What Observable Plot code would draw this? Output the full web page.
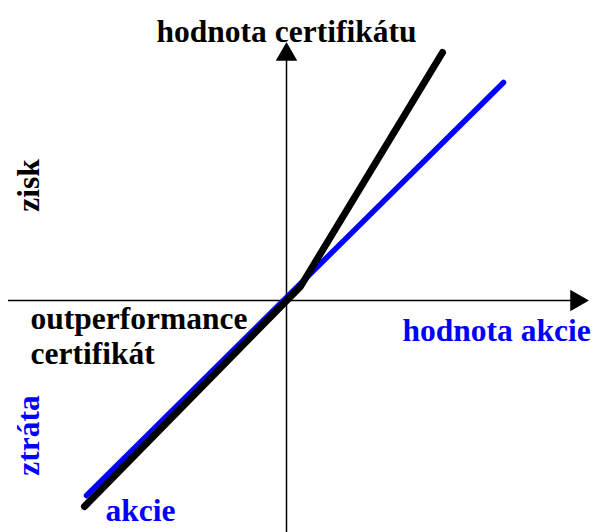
<!DOCTYPE html>
<html><head><meta charset="utf-8">
<script src="https://cdn.jsdelivr.net/npm/d3@7"></script>
<script src="https://cdn.jsdelivr.net/npm/@observablehq/plot@0.6"></script>
<style>body{margin:0;background:#fff}</style>
</head><body><div id="chart"></div>
<script>
// stock value line (akcie) and certificate value line (outperformance certifikát)
const akcieX = [-10, 10.85];
const akcieY = [-9.75, 10.9];
const certX = [-10.1, 0.7, 7.8];
const certY = [-10.3, 0.7, 12.4];
// axis extents
const axisXRange = [-13.9, 14.6];
const axisYRange = [-11.6, 12.4];
// labels
const labelTexts = ["hodnota certifikátu", "hodnota akcie", "outperformance\ncertifikát", "zisk", "ztráta", "akcie"];
const labelX = [0, 5.8, -12.8, -12.9, -12.9, -9.05];
const labelY = [12.95, -1.5, -0.2, 5.75, -6.75, -10.5];
const labelColor = ["black", "#0000ff", "black", "black", "#0000ff", "#0000ff"];

const akcie = akcieX.map((x, i) => ({x, y: akcieY[i]}));
const cert = certX.map((x, i) => ({x, y: certY[i]}));
const labels = labelTexts.map((t, i) => ({t, x: labelX[i], y: labelY[i], c: labelColor[i]}));

const font = "Liberation Serif, Times New Roman, serif";
const fs = 31.5;
const chart = Plot.plot({
  width: 595, height: 532,
  margin: 0,
  x: {domain: [-14.3, 15.45], axis: null},
  y: {domain: [-11.6, 15], axis: null},
  style: {fontFamily: font},
  marks: [
    Plot.ruleY([0], {x1: axisXRange[0], x2: axisXRange[1], stroke: "black", strokeWidth: 1.5}),
    Plot.ruleX([0], {y1: axisYRange[0], y2: axisYRange[1], stroke: "black", strokeWidth: 1.5}),
    Plot.dot([{x: 0, y: axisYRange[1] - 0.1}], {x: "x", y: "y", symbol: "triangle", r: 8, fill: "black", stroke: null}),
    Plot.dot([{x: axisXRange[1] - 0.1, y: 0}], {x: "x", y: "y", symbol: "triangle", r: 8, fill: "black", stroke: null, rotate: 90}),
    Plot.line(akcie, {x: "x", y: "y", stroke: "#0000ff", strokeWidth: 5.5}),
    Plot.line(cert, {x: "x", y: "y", stroke: "black", strokeWidth: 7}),
    Plot.text(labels.filter(d => d.t === "hodnota certifikátu"), {x: "x", y: "y", text: "t", fill: "c", fontSize: fs, fontWeight: "bold", textAnchor: "middle", lineAnchor: "bottom"}),
    Plot.text(labels.filter(d => ["hodnota akcie", "akcie"].includes(d.t)), {x: "x", y: "y", text: "t", fill: "c", fontSize: fs, fontWeight: "bold", textAnchor: "start", lineAnchor: "middle"}),
    Plot.text(labels.filter(d => d.t.startsWith("outperformance")), {x: "x", y: "y", text: "t", fill: "c", fontSize: fs, fontWeight: "bold", textAnchor: "start", lineAnchor: "top", lineHeight: 1.1}),
    Plot.text(labels.filter(d => ["zisk", "ztráta"].includes(d.t)), {x: "x", y: "y", text: "t", fill: "c", fontSize: fs, fontWeight: "bold", textAnchor: "middle", lineAnchor: "middle", rotate: -90})
  ]
});
document.getElementById("chart").appendChild(chart);
</script>
</body></html>
